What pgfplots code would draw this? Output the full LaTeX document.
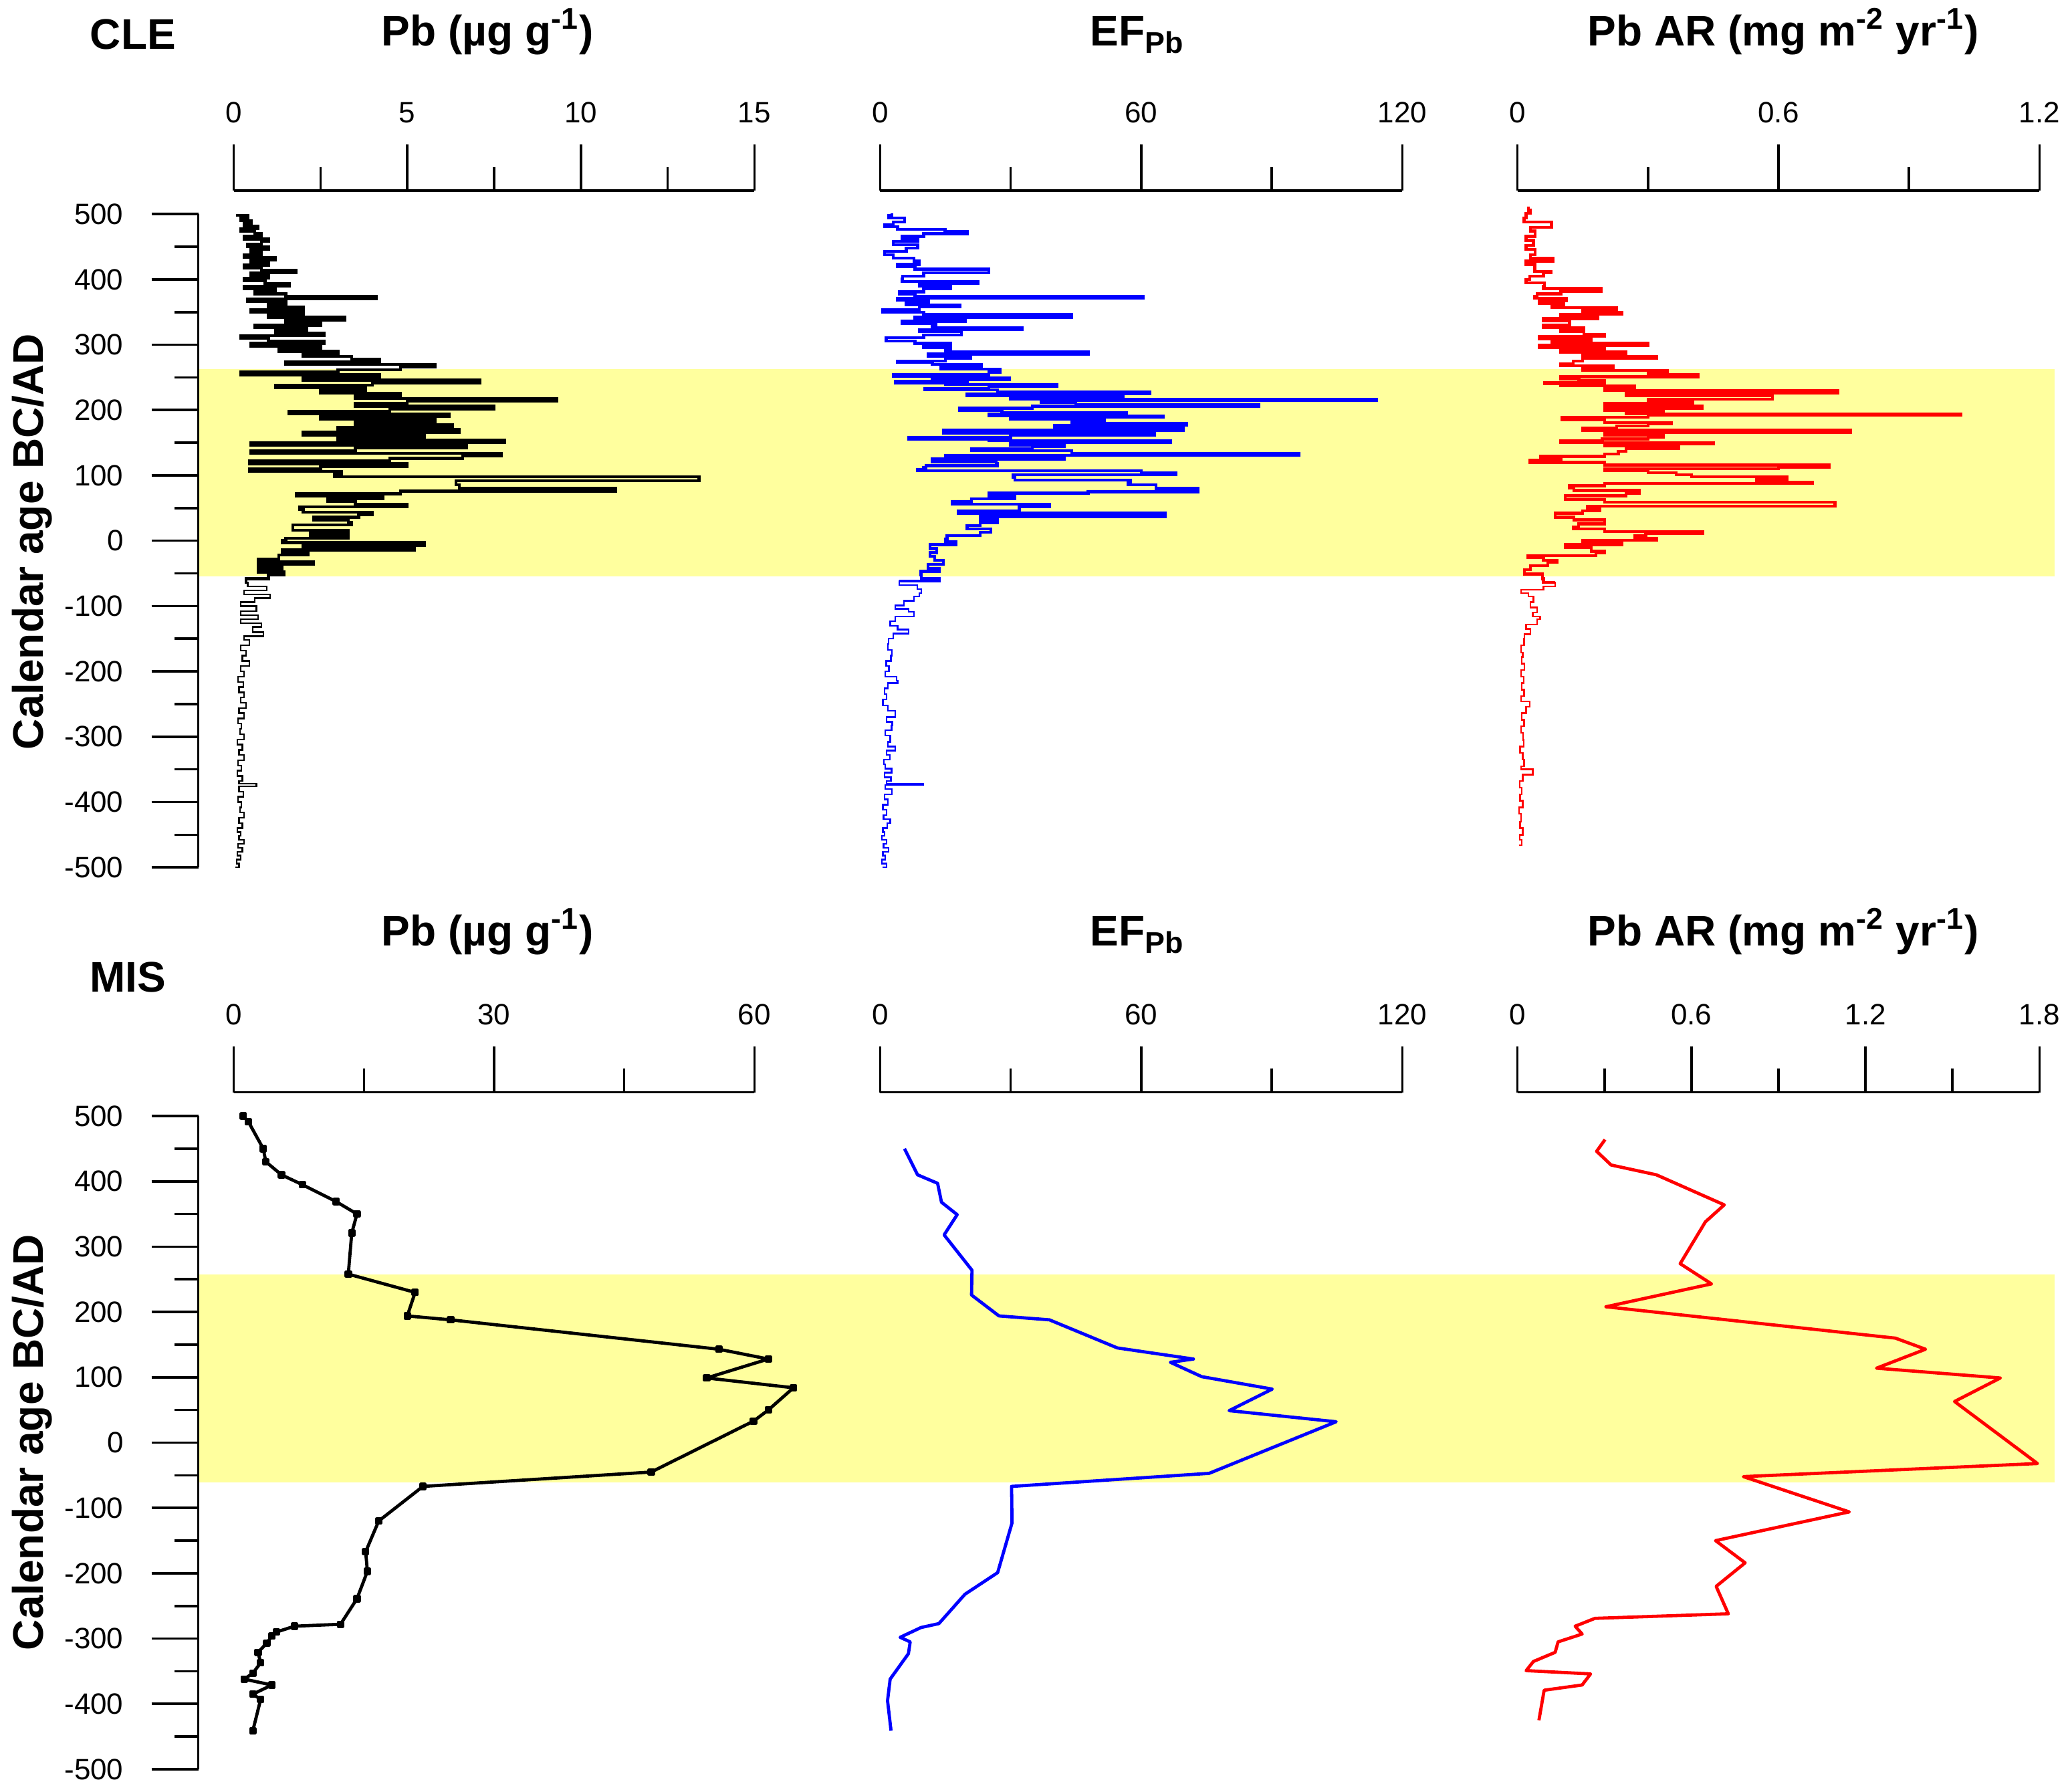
\documentclass[border=0pt]{standalone}
\usepackage{pgfplots}
\usepackage{pgfplotstable}
\pgfplotsset{compat=1.18}
\usepackage{fontspec}
\setmainfont{Liberation Sans}
\definecolor{band}{RGB}{255,255,158}
\newcommand{\tickfont}{\fontsize{11}{13}\selectfont}
\newcommand{\ttlfont}{\fontsize{16}{19}\selectfont\bfseries}

\pgfplotsset{
  bgaxis/.style={scale only axis, width=694.2pt, height=244.25pt,
    xmin=0, xmax=1, ymin=-500, ymax=500,
    axis x line=none, axis y line*=left, axis on top,
    y axis line style={-, line width=0.9pt},
    ytick={-500,-400,...,500},
    yticklabels={-500,-400,-300,-200,-100,0,100,200,300,400,500},
    minor ytick={-450,-350,...,450},
    tick align=outside, major tick length=17.5pt, minor tick length=8.8pt,
    every tick/.style={black, line width=0.9pt},
    yticklabel style={font=\tickfont, xshift=-7pt},
    anchor=south west},
  panel/.style={scale only axis, height=253.1pt,
    ymin=-500, ymax=536.3,
    axis y line=none, axis x line*=top,
    x axis line style={-, line width=0.9pt},
    ytick=\empty,
    tick align=outside, major tick length=17.2pt, minor tick length=8.8pt,
    every tick/.style={black, line width=0.9pt},
    xticklabel style={font=\tickfont, yshift=4.5pt},
    clip=false, anchor=south west},
  thin/.style={const plot mark left, line width=0.6pt, line join=miter},
  dense/.style={const plot mark left, line width=1.1pt, line join=miter, restrict y to domain=-64:600},
  thick/.style={line width=1.2pt, line join=round},
}

% CLE Pb (ug/g): age, value
\pgfplotstableread{
a v
-500 0.05
-494 0.15
-488 0.08
-482 0.2
-476 0.1
-470 0.25
-464 0.12
-458 0.3
-452 0.15
-446 0.2
-440 0.1
-432 0.25
-424 0.15
-416 0.3
-408 0.18
-400 0.22
-392 0.12
-384 0.28
-376 0.15
-372 0.65
-368 0.15
-360 0.25
-352 0.1
-344 0.22
-336 0.12
-328 0.3
-320 0.15
-312 0.25
-304 0.1
-296 0.3
-288 0.18
-280 0.22
-272 0.12
-264 0.3
-256 0.15
-248 0.35
-240 0.2
-232 0.3
-224 0.15
-216 0.28
-208 0.12
-200 0.3
-192 0.2
-184 0.45
-176 0.25
-168 0.35
-160 0.2
-152 0.45
-146 0.3
-140 0.85
-132 0.55
-126 0.8
-120 0.2
-114 0.7
-108 0.2
-100 0.65
-94 0.2
-88 0.6
-82 1.05
-76 0.3
-70 0.95
-64 0.4
-58 0.35
-52 1.0
-48 1.45
-44 0.7
-40 1.4
-36 0.7
-32 2.3
-28 0.7
-22 1.3
-18 2.15
-14 1.4
-11 5.2
-7 2.0
-3 5.5
1 1.4
4 1.5
8 3.3
12 2.2
16 3.3
20 1.7
24 1.7
28 3.4
32 3.3
36 2.3
40 3.6
44 4.0
48 2.0
52 1.9
56 5.0
60 3.5
64 2.7
68 4.3
72 1.8
76 4.8
80 11.0
86 6.5
92 6.4
98 13.4
102 2.9
106 3.1
110 0.45
114 2.5
118 5.0
122 0.45
126 4.5
130 6.6
134 7.7
138 0.5
142 3.5
146 6.7
150 0.5
154 7.8
158 3.0
162 5.5
166 2.0
170 6.5
174 3.0
178 6.3
182 3.5
186 5.8
190 2.5
194 6.2
198 1.6
202 4.5
206 7.5
210 3.5
214 5.0
218 9.3
222 3.5
226 4.8
230 2.5
234 3.8
238 1.2
242 4.0
246 7.1
250 2.0
254 4.2
258 0.2
262 3.0
266 4.8
270 5.8
274 1.5
278 4.2
282 3.4
286 2.0
290 3.0
294 1.3
298 2.5
302 0.5
306 2.6
310 1.0
314 0.2
318 2.6
322 1.2
326 2.1
330 0.6
334 2.5
338 1.5
342 3.2
346 1.0
350 2.0
354 0.5
358 2.0
362 1.0
366 1.5
370 0.4
374 4.1
378 1.5
382 0.6
386 1.2
390 0.3
394 1.6
398 0.9
402 0.3
406 1.0
410 0.5
414 1.8
418 0.8
422 0.3
426 1.0
430 0.5
434 1.2
438 0.3
442 0.8
446 0.5
450 1.0
454 0.4
458 0.8
462 1.0
466 0.3
470 0.8
474 0.6
478 0.2
482 0.7
486 0.3
490 0.5
494 0.2
498 0.4
500 0.1
}\tabPb

% CLE EF_Pb: age, value
\pgfplotstableread{
a v
-500 0.5
-494 1.5
-488 0.4
-482 1.2
-476 0.6
-470 1.9
-464 0.8
-458 1.5
-452 0.4
-446 1.0
-440 0.6
-432 1.6
-426 2.3
-420 0.8
-412 1.5
-404 0.6
-396 1.8
-388 1.0
-380 2.7
-374 1.2
-372 9.9
-368 1.5
-362 2.5
-355 1.0
-349 2.6
-342 1.2
-335 0.9
-328 2.2
-321 1.5
-315 3.5
-308 1.8
-298 2.3
-290 1.2
-283 2.6
-277 2.8
-270 1.5
-260 3.5
-252 1.8
-243 0.6
-235 1.5
-226 1.0
-218 1.8
-214 4.0
-208 3.8
-200 1.2
-192 2.0
-184 1.4
-176 2.5
-167 2.7
-158 1.8
-150 1.9
-142 3.0
-136 6.5
-130 4.0
-123 2.3
-116 3.5
-109 7.8
-104 6.5
-99 3.5
-92 5.5
-85 7.8
-80 9.0
-74 9.5
-68 8.5
-62 4.4
-58 13.6
-52 9.5
-47 9.4
-42 13.6
-36 11
-30 14.5
-24 12.5
-18 11.5
-12 13
-6 11.5
-2 17.4
3 15
8 15.4
13 23
18 25.4
23 20
28 23
32 27
37 23
42 65.5
46 17.9
52 32
56 39
60 16.6
64 21
69 30.9
73 25
75 47.8
80 73
86 63.4
90 57
93 57.5
97 31
101 30.5
104 68
107 60
109 8.6
112 10
115 10.5
118 27
121 26.7
125 12
128 42.3
131 15
134 96.2
138 44
141 21
144 35
146 42.3
150 30
153 66.7
156 25
158 6.5
162 30
165 63
169 14.5
173 69.7
177 40
180 70.5
183 44
186 51.6
189 30
191 65
194 25
196 56.6
200 28
203 18.3
206 35
208 87
212 45
215 37
217 114
220 30
222 55.8
225 20
228 62
231 27
233 10.3
236 25
239 40.6
242 15
244 3.5
247 20
249 29.7
252 12
254 3.1
258 25
263 27.5
266 14
270 23.3
273 12
275 4.0
279 15
282 20.8
286 11
289 47.8
292 15
296 16.2
299 10
302 16.2
306 8
311 1.4
315 10
320 18.7
323 9
326 32.6
330 12
333 12.8
336 5
338 19.5
342 8
347 44
350 10
354 0.6
358 9
361 18.3
365 6
368 11.1
371 4
374 60.4
378 8
381 4.4
386 10
390 16.2
394 9
397 22.5
401 5
405 5.2
410 10
416 25
420 8
423 4.0
428 9
433 7.8
438 3
443 1.0
448 6
453 8.6
458 3
462 8.6
466 5
470 10
473 20
477 14.9
481 4
484 1.0
488 3
494 5.6
498 2
501 2.7
}\tabEF

% CLE Pb AR (mg m-2 yr-1): age, value
\pgfplotstableread{
a v
-466 0.003
-458 0.01
-450 0.005
-440 0.012
-430 0.006
-418 0.008
-408 0.004
-398 0.012
-388 0.006
-378 0.01
-368 0.005
-358 0.012
-355 0.035
-350 0.035
-345 0.008
-335 0.015
-325 0.012
-315 0.006
-305 0.014
-294 0.013
-284 0.008
-274 0.015
-264 0.01
-254 0.02
-246 0.028
-238 0.008
-228 0.015
-218 0.01
-208 0.014
-198 0.008
-188 0.016
-178 0.01
-171 0.012
-160 0.008
-150 0.015
-143 0.016
-135 0.03
-128 0.02
-120 0.045
-116 0.052
-110 0.035
-102 0.045
-94 0.03
-85 0.037
-80 0.025
-75 0.008
-70 0.06
-64 0.087
-58 0.06
-51 0.057
-44 0.016
-38 0.03
-33 0.07
-30 0.091
-26 0.06
-23 0.024
-19 0.18
-16 0.2
-10 0.17
-6 0.11
-3 0.24
1 0.15
4 0.32
8 0.27
11 0.295
14 0.426
18 0.2
21 0.128
26 0.14
32 0.2
36 0.13
42 0.087
46 0.15
49 0.19
53 0.16
59 0.73
63 0.2
69 0.11
73 0.25
77 0.28
81 0.13
84 0.12
88 0.2
90 0.678
94 0.55
98 0.62
101 0.4
104 0.365
107 0.3
110 0.2
113 0.6
116 0.717
120 0.2
123 0.028
126 0.1
129 0.053
133 0.2
137 0.232
141 0.25
145 0.37
148 0.2
150 0.45
153 0.1
156 0.195
159 0.3
162 0.336
166 0.2
169 0.766
172 0.15
176 0.228
179 0.3
181 0.353
185 0.2
189 0.103
192 0.3
194 1.02
197 0.25
200 0.336
203 0.2
206 0.424
210 0.2
213 0.403
217 0.3
222 0.586
226 0.25
230 0.736
233 0.2
237 0.27
240 0.1
242 0.062
245 0.2
248 0.141
251 0.1
254 0.415
258 0.3
261 0.345
264 0.15
268 0.22
271 0.1
275 0.128
279 0.15
282 0.32
286 0.15
289 0.249
292 0.1
296 0.2
299 0.05
302 0.3
305 0.08
309 0.17
313 0.05
316 0.2
320 0.153
323 0.1
326 0.153
330 0.06
333 0.12
337 0.12
340 0.06
344 0.185
347 0.1
350 0.24
354 0.15
357 0.228
360 0.08
363 0.107
367 0.05
371 0.112
374 0.04
378 0.045
382 0.1
386 0.193
390 0.06
395 0.062
400 0.02
405 0.028
410 0.06
412 0.077
418 0.04
423 0.041
428 0.02
433 0.082
438 0.03
446 0.041
452 0.02
460 0.037
466 0.02
474 0.041
480 0.03
488 0.078
494 0.015
501 0.02
506 0.03
512 0.025
}\tabAR

\begin{document}
\begin{tikzpicture}
\path[use as bounding box] (0,0) rectangle (774.75pt,670pt);

%================ TOP ROW (CLE) =================
\begin{axis}[bgaxis, at={(74.15pt,345.7pt)}]
\addplot[fill=band, draw=none] coordinates {(0,-54.5) (1,-54.5) (1,262.4) (0,262.4)} --cycle;
\end{axis}

\begin{axis}[panel, at={(87.4pt,345.7pt)}, width=194.7pt,
  xmin=0, xmax=15, xtick={0,5,10,15}, xticklabels={0,5,10,15}, minor xtick={2.5,7.5,12.5}]
\addplot[thin, black] table[x=v, y=a] {\tabPb};
\addplot[dense, black] table[x=v, y=a] {\tabPb};
\end{axis}

\begin{axis}[panel, at={(329.1pt,345.7pt)}, width=195.25pt,
  xmin=0, xmax=120, xtick={0,60,120}, xticklabels={0,60,120}, minor xtick={30,90}]
\addplot[thin, blue] table[x=v, y=a] {\tabEF};
\addplot[dense, blue] table[x=v, y=a] {\tabEF};
\end{axis}

\begin{axis}[panel, at={(567.4pt,345.7pt)}, width=195.2pt,
  xmin=0, xmax=1.2, xtick={0,0.6,1.2}, xticklabels={0,0.6,1.2}, minor xtick={0.3,0.9}]
\addplot[thin, red] table[x=v, y=a] {\tabAR};
\addplot[dense, red] table[x=v, y=a] {\tabAR};
\end{axis}

%================ BOTTOM ROW (MIS) =================
\begin{axis}[bgaxis, at={(74.15pt,8.5pt)}]
\addplot[fill=band, draw=none] coordinates {(0,-61) (1,-61) (1,257) (0,257)} --cycle;
\end{axis}

\begin{axis}[panel, at={(87.4pt,8.5pt)}, width=194.7pt,
  xmin=0, xmax=60, xtick={0,30,60}, xticklabels={0,30,60}, minor xtick={15,45}]
\addplot[thick, black, mark=square*, mark size=0.8pt] coordinates {
(1.1,500) (1.7,491) (3.4,450) (3.7,430) (5.5,410) (7.9,395) (11.8,369) (14.2,350)
(13.6,321) (13.2,258) (20.9,230) (20.0,194) (25.0,188) (55.9,143) (61.6,128) (54.5,99)
(64.5,84) (61.6,50) (59.9,33) (48.1,-45) (21.8,-67) (16.7,-120) (15.2,-167) (15.4,-197)
(14.2,-239) (12.3,-278) (7.0,-281) (4.9,-290) (4.4,-296) (3.8,-307) (2.8,-321) (3.1,-337)
(2.2,-353) (1.2,-362) (4.4,-371) (2.2,-385) (3.1,-393) (2.2,-441)
};
\end{axis}

\begin{axis}[panel, at={(329.1pt,8.5pt)}, width=195.25pt,
  xmin=0, xmax=120, xtick={0,60,120}, xticklabels={0,60,120}, minor xtick={30,90}]
\addplot[thick, blue] coordinates {
(5.6,450) (8.6,410) (13.2,397) (14.1,368) (17.7,349) (14.7,318) (21.1,264) (21.0,226)
(27.3,194) (38.9,188) (54.5,145) (72.0,128) (66.7,123) (73.9,101) (90.1,82) (80.2,49)
(104.8,32) (75.6,-47) (30.2,-67) (30.3,-123) (27.0,-199) (19.5,-232) (13.5,-277) (9.4,-283)
(4.6,-298) (6.9,-305) (6.5,-323) (2.3,-362) (1.7,-395) (2.5,-441)
};
\end{axis}

\begin{axis}[panel, at={(567.4pt,8.5pt)}, width=195.2pt,
  xmin=0, xmax=1.8, xtick={0,0.6,1.2,1.8}, xticklabels={0,0.6,1.2,1.8}, minor xtick={0.3,0.9,1.5}]
\addplot[thick, red] coordinates {
(0.302,464) (0.273,446) (0.323,425) (0.479,410) (0.713,364) (0.648,338) (0.561,274) (0.669,243)
(0.305,208) (1.303,160) (1.407,143) (1.238,114) (1.665,99) (1.507,63) (1.793,-32) (0.779,-52)
(1.144,-106) (0.683,-150) (0.785,-184) (0.685,-220) (0.727,-262) (0.267,-269) (0.199,-281) (0.223,-293)
(0.140,-305) (0.130,-321) (0.055,-335) (0.030,-349) (0.252,-354) (0.223,-371) (0.092,-379) (0.074,-425)
};
\end{axis}

%================ TEXT =================
\node[anchor=base, font=\ttlfont] at (49.75pt,651.7pt) {CLE};
\node[anchor=base, font=\ttlfont] at (182.25pt,652.75pt) {Pb (µg g\textsuperscript{-1})};
\node[anchor=base, font=\ttlfont] at (425.25pt,652.75pt) {EF\textsubscript{Pb}};
\node[anchor=base, font=\ttlfont] at (666.75pt,652.75pt) {Pb AR (mg m\textsuperscript{-2} yr\textsuperscript{-1})};

\node[anchor=base, font=\ttlfont] at (47.75pt,299.1pt) {MIS};
\node[anchor=base, font=\ttlfont] at (182.25pt,316.25pt) {Pb (µg g\textsuperscript{-1})};
\node[anchor=base, font=\ttlfont] at (425.25pt,316.25pt) {EF\textsubscript{Pb}};
\node[anchor=base, font=\ttlfont] at (666.75pt,316.25pt) {Pb AR (mg m\textsuperscript{-2} yr\textsuperscript{-1})};

\node[anchor=base, rotate=90, font=\ttlfont] at (16pt,467.5pt) {Calendar age BC/AD};
\node[anchor=base, rotate=90, font=\ttlfont] at (16pt,130.75pt) {Calendar age BC/AD};
\end{tikzpicture}
\end{document}
